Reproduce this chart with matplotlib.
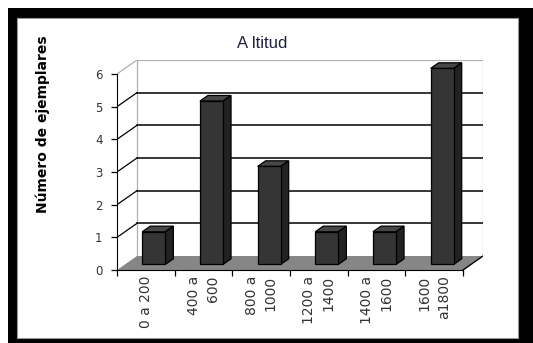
import matplotlib
matplotlib.use("Agg")
import matplotlib.pyplot as plt
from matplotlib.patches import Rectangle, Polygon

# datos
categorias = ["0 a 200", "400 a\n600", "800 a\n1000", "1200 a\n1400", "1400 a\n1600", "1600\na1800"]
ejemplares = [1, 5, 3, 1, 1, 6]
y_ticks = [0, 1, 2, 3, 4, 5, 6]

W, H = 533, 343
fig = plt.figure(figsize=(W / 100, H / 100), dpi=100)
fig.patch.set_facecolor("white")

# marco negro y fondo blanco
fig.patches.append(Rectangle((8 / W, 0), 1 - 8 / W, 1 - 8 / H, transform=fig.transFigure,
                             facecolor="black", edgecolor="none", zorder=0))
fig.patches.append(Rectangle((17 / W, 5 / H), (518 - 17) / W, (338 - 18) / H, transform=fig.transFigure,
                             facecolor="white", edgecolor="#9a9a9a", lw=0.8, zorder=1))

# profundidad 3D (en unidades de datos)
n = len(categorias)
ymax = 6
dx = 20 / 57.7
dy = 14 / 32.7

ax = fig.add_axes([117 / W, 73 / H, 366 / W, 210 / H])
ax.set_xlim(0, n + dx)
ax.set_ylim(0, ymax + dy)
ax.patch.set_visible(False)
ax.set_zorder(2)

# pared del fondo
ax.plot([dx, dx, n + dx, n + dx], [dy, ymax + dy, ymax + dy, dy], color="#b0b0b0", lw=0.9, zorder=1)
for k in y_ticks[1:-1]:
    ax.plot([dx, n + dx], [k + dy, k + dy], color="black", lw=1.1, zorder=1)
for k in y_ticks[1:]:
    col = "#b0b0b0" if k == ymax else "black"
    ax.plot([0, dx], [k, k + dy], color=col, lw=0.9, zorder=1)

# suelo
ax.add_patch(Polygon([(0, 0), (n, 0), (n + dx, dy), (dx, dy)], closed=True,
                     facecolor="#868686", edgecolor="none", zorder=2))
ax.plot([n, n + dx], [0, dy], color="black", lw=1, zorder=2)

# barras
f0, f1 = 0.4, 0.8
bw = 0.4
xs = [i + 0.5 + f0 * dx for i in range(n)]
yb = f0 * dy
ddx, ddy = (f1 - f0) * dx, (f1 - f0) * dy
ax.bar(xs, ejemplares, width=bw, bottom=yb, color="#353535", edgecolor="black", lw=0.9, zorder=4)
for x, v in zip(xs, ejemplares):
    l, r, t = x - bw / 2, x + bw / 2, yb + v
    ax.add_patch(Polygon([(l, t), (r, t), (r + ddx, t + ddy), (l + ddx, t + ddy)], closed=True,
                         facecolor="#474747", edgecolor="black", lw=0.9, zorder=3))
    ax.add_patch(Polygon([(r, yb), (r + ddx, yb + ddy), (r + ddx, t + ddy), (r, t)], closed=True,
                         facecolor="#222222", edgecolor="black", lw=0.9, zorder=3))

# ejes frontales
for s in ["top", "right"]:
    ax.spines[s].set_visible(False)
ax.spines["left"].set_bounds(0, ymax)
ax.spines["bottom"].set_bounds(0, n)
ax.spines["left"].set_zorder(5)
ax.spines["bottom"].set_zorder(5)
ax.set_yticks(y_ticks)
ax.tick_params(axis="y", length=4.5, width=0.9, pad=6, labelsize=8.5, labelcolor="#333333")
ax.set_xticks(range(n + 1))
ax.set_xticklabels([])
ax.set_xticks([i + 0.5 for i in range(n)], minor=True)
ax.set_xticklabels(categorias, minor=True, rotation=90, fontsize=10, color="#333333",
                   va="top", ha="center", multialignment="right", linespacing=1.45)
ax.tick_params(axis="x", which="major", length=4, width=0.9)
ax.tick_params(axis="x", which="minor", length=0, pad=4)

# textos
fig.text(262 / W, 1 - 44 / H, "A ltitud", ha="center", va="center", fontsize=12,
         color="#202040", family="Liberation Sans")
fig.text(43 / W, 1 - 124 / H, "Número de ejemplares", ha="center", va="center", rotation=90,
         fontsize=10, fontweight="bold", color="black")

fig.savefig("out.png", dpi=100, facecolor=fig.get_facecolor())
